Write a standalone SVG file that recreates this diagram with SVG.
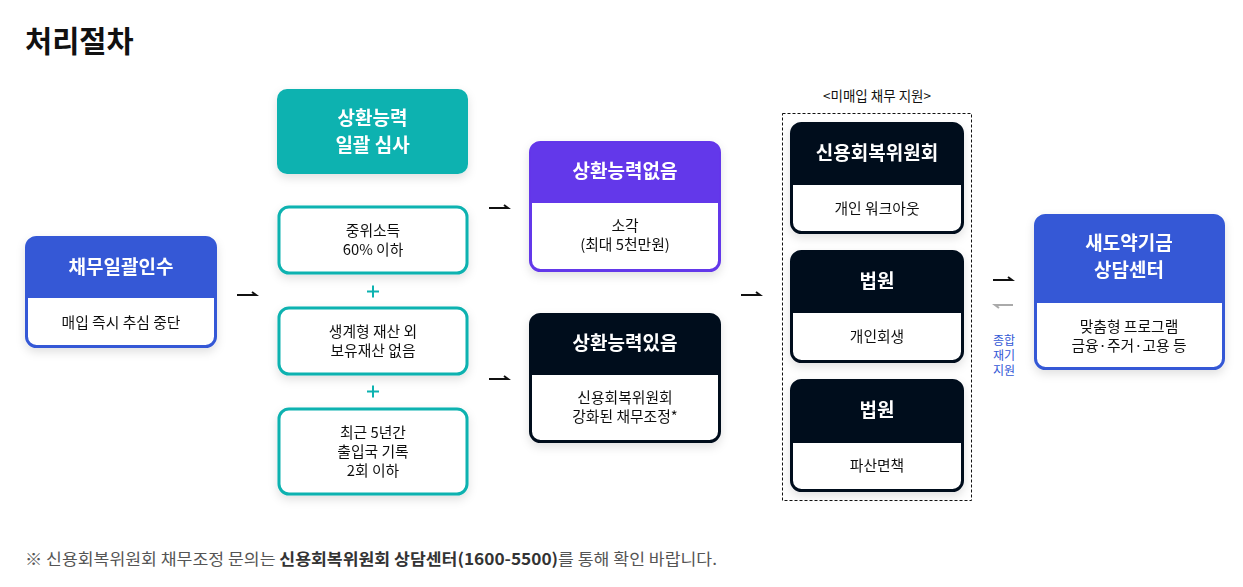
<svg xmlns="http://www.w3.org/2000/svg" width="1243" height="587" viewBox="0 0 1243 587">
<defs>
<filter id="sh" x="-20%" y="-20%" width="140%" height="150%">
<feDropShadow dx="0" dy="4" stdDeviation="5" flood-color="#000" flood-opacity="0.12"/>
</filter>
<style>
text{font-family:"Noto Sans CJK KR","Noto Sans",sans-serif;}
.hd{font-size:19px;font-weight:700;fill:#fff;text-anchor:middle;}
.bd{font-size:14.8px;fill:#111;text-anchor:middle;}
.ar{fill:none;stroke:#111;stroke-width:2;}
.lb{font-size:12px;fill:#3459d6;text-anchor:middle;}
.pl{fill:none;stroke:#0cb2b0;stroke-width:2;}
</style>
</defs>
<rect width="1243" height="587" fill="#fff"/>
<text x="25" y="52" style="font-size:29.5px;font-weight:700;fill:#111">처리절차</text>

<g id="n1" filter="url(#sh)">
<rect x="26.5" y="237.5" width="189" height="109" rx="10" fill="#fff" stroke="#3459d6" stroke-width="3"/>
<path d="M26.5 298 V247.5 a10 10 0 0 1 10 -10 H205.5 a10 10 0 0 1 10 10 V298 Z" fill="#3459d6"/>
<text class="hd" x="121" y="274">채무일괄인수</text>
<text class="bd" x="121" y="328">매입 즉시 추심 중단</text>
</g>

<g id="n2" filter="url(#sh)">
<rect x="277" y="89" width="191" height="85" rx="10" fill="#0cb2b0"/>
<text class="hd" x="372.5" y="125">상환능력</text>
<text class="hd" x="372.5" y="152">일괄 심사</text>
</g>
<g id="n3" filter="url(#sh)">
<rect x="279" y="207" width="188" height="66" rx="10" fill="#fff" stroke="#0cb2b0" stroke-width="3"/>
<text class="bd" x="373" y="236">중위소득</text>
<text class="bd" x="373" y="255">60% 이하</text>
</g>
<path class="pl" d="M367 291.5 H379 M373 285.5 V297.5"/>
<g id="n4" filter="url(#sh)">
<rect x="279" y="308" width="188" height="66" rx="10" fill="#fff" stroke="#0cb2b0" stroke-width="3"/>
<text class="bd" x="373" y="337">생계형 재산 외</text>
<text class="bd" x="373" y="356">보유재산 없음</text>
</g>
<path class="pl" d="M367 391.5 H379 M373 385.5 V397.5"/>
<g id="n5" filter="url(#sh)">
<rect x="279" y="409" width="188" height="85" rx="10" fill="#fff" stroke="#0cb2b0" stroke-width="3"/>
<text class="bd" x="373" y="438">최근 5년간</text>
<text class="bd" x="373" y="457">출입국 기록</text>
<text class="bd" x="373" y="476">2회 이하</text>
</g>

<g id="n6" filter="url(#sh)">
<rect x="530.5" y="142.5" width="189" height="128" rx="10" fill="#fff" stroke="#6437ea" stroke-width="3"/>
<path d="M530.5 203 V152.5 a10 10 0 0 1 10 -10 H709.5 a10 10 0 0 1 10 10 V203 Z" fill="#6437ea"/>
<text class="hd" x="625" y="178">상환능력없음</text>
<text class="bd" x="625" y="231">소각</text>
<text class="bd" x="625" y="250">(최대 5천만원)</text>
</g>
<g id="n7" filter="url(#sh)">
<rect x="530.5" y="314.5" width="189" height="127" rx="10" fill="#fff" stroke="#030f1f" stroke-width="3"/>
<path d="M530.5 375 V324.5 a10 10 0 0 1 10 -10 H709.5 a10 10 0 0 1 10 10 V375 Z" fill="#030f1f"/>
<text class="hd" x="625" y="350">상환능력있음</text>
<text class="bd" x="625" y="403">신용회복위원회</text>
<text class="bd" x="625" y="422">강화된 채무조정*</text>
</g>

<text x="877" y="101" style="font-size:13.5px;fill:#111;text-anchor:middle">&lt;미매입 채무 지원&gt;</text>
<rect x="782.5" y="113.5" width="189" height="387" fill="none" stroke="#111" stroke-width="1" stroke-dasharray="3,2"/>
<g id="n8" filter="url(#sh)">
<rect x="791.5" y="123.5" width="171" height="109" rx="10" fill="#fff" stroke="#030f1f" stroke-width="3"/>
<path d="M791.5 185 V133.5 a10 10 0 0 1 10 -10 H952.5 a10 10 0 0 1 10 10 V185 Z" fill="#030f1f"/>
<text class="hd" x="877" y="160">신용회복위원회</text>
<text class="bd" x="877" y="214">개인 워크아웃</text>
</g>
<g id="n9" filter="url(#sh)">
<rect x="791.5" y="251.5" width="171" height="110" rx="10" fill="#fff" stroke="#030f1f" stroke-width="3"/>
<path d="M791.5 313 V261.5 a10 10 0 0 1 10 -10 H952.5 a10 10 0 0 1 10 10 V313 Z" fill="#030f1f"/>
<text class="hd" x="877" y="288">법원</text>
<text class="bd" x="877" y="342">개인회생</text>
</g>
<g id="n10" filter="url(#sh)">
<rect x="791.5" y="380.5" width="171" height="110" rx="10" fill="#fff" stroke="#030f1f" stroke-width="3"/>
<path d="M791.5 443 V390.5 a10 10 0 0 1 10 -10 H952.5 a10 10 0 0 1 10 10 V443 Z" fill="#030f1f"/>
<text class="hd" x="877" y="417">법원</text>
<text class="bd" x="877" y="471">파산면책</text>
</g>

<g id="n11" filter="url(#sh)">
<rect x="1035.5" y="215.5" width="188" height="153" rx="10" fill="#fff" stroke="#3459d6" stroke-width="3"/>
<path d="M1035.5 303 V225.5 a10 10 0 0 1 10 -10 H1213.5 a10 10 0 0 1 10 10 V303 Z" fill="#3459d6"/>
<text class="hd" x="1129" y="250">새도약기금</text>
<text class="hd" x="1129" y="277">상담센터</text>
<text class="bd" x="1129" y="332">맞춤형 프로그램</text>
<text class="bd" x="1129" y="351">금융·주거·고용 등</text>
</g>

<g id="connectors">
<path class="ar" d="M237 295 H256 l-4 -3"/>
<path class="ar" d="M489 208 H508 l-4 -3"/>
<path class="ar" d="M489 379 H508 l-4 -3"/>
<path class="ar" d="M741 295 H760 l-4 -3"/>
<path class="ar" d="M993 280 H1012 l-4 -3"/>
<path d="M1013 305 H995 l4 3" fill="none" stroke="#aaa" stroke-width="2"/>
<text class="lb" x="1004" y="345">종합</text>
<text class="lb" x="1004" y="360">재기</text>
<text class="lb" x="1004" y="375">지원</text>
</g>

<text x="25" y="565" textLength="692" lengthAdjust="spacingAndGlyphs" style="font-size:16px;fill:#555">※ 신용회복위원회 채무조정 문의는 <tspan style="font-weight:700;fill:#333">신용회복위원회 상담센터(1600-5500)</tspan>를 통해 확인 바랍니다.</text>
</svg>
